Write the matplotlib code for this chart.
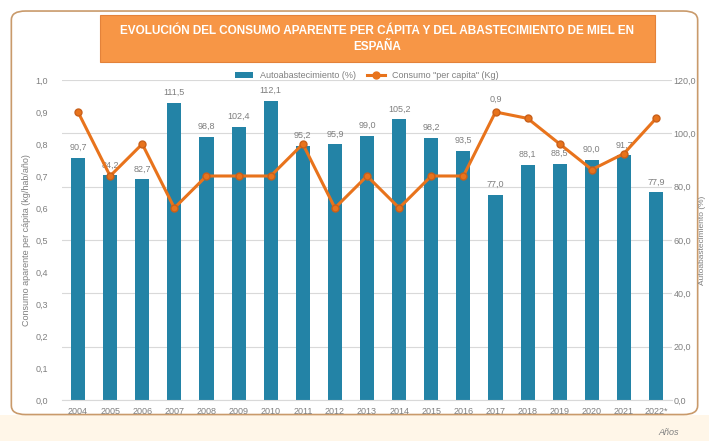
import numpy as np
from matplotlib import pyplot as plt
from matplotlib.patches import FancyBboxPatch, Rectangle
from matplotlib.lines import Line2D
from matplotlib.ticker import FuncFormatter

plt.rcParams['font.family'] = ['Liberation Sans', 'DejaVu Sans']

years = ["2004", "2005", "2006", "2007", "2008", "2009", "2010", "2011", "2012", "2013",
         "2014", "2015", "2016", "2017", "2018", "2019", "2020", "2021", "2022*"]
autoabast = [90.7, 84.2, 82.7, 111.5, 98.8, 102.4, 112.1, 95.2, 95.9, 99.0,
             105.2, 98.2, 93.5, 77.0, 88.1, 88.5, 90.0, 91.7, 77.9]
consumo = [0.90, 0.70, 0.80, 0.60, 0.70, 0.70, 0.70, 0.80, 0.60, 0.70,
           0.60, 0.70, 0.70, 0.90, 0.88, 0.80, 0.72, 0.77, 0.88]

title = "EVOLUCIÓN DEL CONSUMO APARENTE PER CÁPITA Y DEL ABASTECIMIENTO DE MIEL EN\nESPAÑA"

bar_clr = "#2383A6"
line_clr = "#E8731C"
txt_clr = "#7F7F7F"


def comma(v, dec=1):
    return f"{v:.{dec}f}".replace(".", ",")


if __name__ == '__main__':
    fig = plt.figure(figsize=(7.09, 4.41), dpi=100)
    fig.patch.set_facecolor("white")

    # background: cream strip, rounded frame, title box
    bg = fig.add_axes([0, 0, 1, 1], zorder=-10)
    bg.set_xlim(0, 1)
    bg.set_ylim(0, 1)
    bg.axis("off")
    bg.add_patch(Rectangle((0, 0), 1, 0.06, facecolor="#FFF6E8", edgecolor="none"))
    bg.add_patch(FancyBboxPatch((0.016, 0.06), 0.968, 0.915,
                                boxstyle="round,pad=0,rounding_size=0.02",
                                facecolor="white", edgecolor="#C99A6B", linewidth=1.2))
    bg.add_patch(Rectangle((0.141, 0.859), 0.783, 0.107, facecolor="#F79646",
                           edgecolor="#E3823A", linewidth=0.8))
    bg.text(0.532, 0.912, title, ha="center", va="center", color="white",
            fontsize=8.5, fontweight="bold", linespacing=1.45)
    bg.text(0.943, 0.01, "Años", fontsize=6.5, color=txt_clr, style="italic",
            ha="center", va="bottom")

    ax2 = fig.add_axes([0.0874, 0.093, 0.8606, 0.7256])
    ax = ax2.twinx()
    # bars on the right-hand scale, line on the left-hand scale
    ax2.yaxis.tick_right()
    ax2.yaxis.set_label_position("right")
    ax.yaxis.tick_left()
    ax.yaxis.set_label_position("left")

    xs = np.arange(len(years))
    ax2.bar(xs, autoabast, width=0.44, color=bar_clr, zorder=2)
    ax2.set_ylim(0, 120)
    ax2.set_yticks(np.arange(0, 121, 20))
    ax2.yaxis.set_major_formatter(FuncFormatter(lambda v, p: comma(v)))
    for x, v in zip(xs, autoabast):
        ax2.text(x, v + 2.2, comma(v), ha="center", va="bottom", fontsize=6.5,
                 color=txt_clr, zorder=3)

    ax.plot(xs, consumo, color=line_clr, linewidth=2.2, marker="o", markersize=5,
            markerfacecolor=line_clr, markeredgecolor="#C9601A", zorder=4)
    ax.set_ylim(0, 1.0)
    ax.set_yticks(np.arange(0, 1.01, 0.1))
    ax.yaxis.set_major_formatter(FuncFormatter(lambda v, p: comma(v)))
    ax.text(13, 0.9 + 0.025, "0,9", ha="center", va="bottom", fontsize=6.5, color=txt_clr)

    ax2.set_xlim(-0.5, len(years) - 0.5)
    ax2.set_xticks(xs)
    ax2.set_xticklabels(years)

    ax2.yaxis.grid(True, color="#D9D9D9", linewidth=0.8, zorder=0)
    ax2.set_axisbelow(True)
    for a in (ax, ax2):
        a.patch.set_visible(False)
        for s in a.spines.values():
            s.set_visible(False)
        a.tick_params(length=0, labelsize=6.5, labelcolor=txt_clr)
    ax2.spines["bottom"].set_visible(True)
    ax2.spines["bottom"].set_color("#D9D9D9")
    ax2.tick_params(axis="x", pad=5)
    ax2.tick_params(axis="y", pad=1)
    ax.tick_params(axis="y", pad=10)

    ax.set_ylabel("Consumo aparente per cápita (kg/hab/año)", fontsize=6.5, color=txt_clr,
                  labelpad=3)
    ax2.set_ylabel("Autoabastecimiento (%)", fontsize=6, color=txt_clr, labelpad=2)

    handles = [Rectangle((0, 0), 1, 1, facecolor=bar_clr),
               Line2D([], [], color=line_clr, linewidth=2.2, marker="o", markersize=5)]
    leg = ax2.legend(handles, ["Autoabastecimiento (%)", "Consumo \"per capita\" (Kg)"],
                     loc="lower center", bbox_to_anchor=(0.5, 0.985), ncol=2, frameon=False,
                     fontsize=6.5, handlelength=2.0, columnspacing=1.2, borderpad=0)
    for t in leg.get_texts():
        t.set_color(txt_clr)

    fig.savefig("out.png", dpi=100)
